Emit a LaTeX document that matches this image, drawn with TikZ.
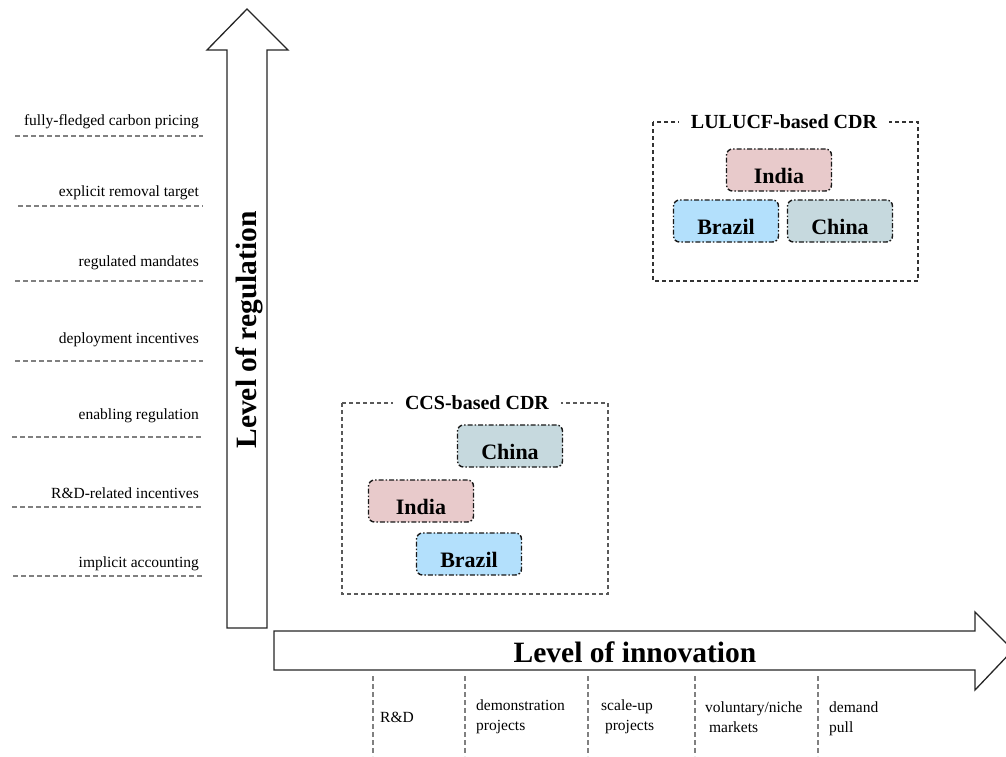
\documentclass[tikz,border=0pt]{standalone}
\usepackage{fontspec}
\setmainfont{Liberation Serif}
\begin{document}
\begin{tikzpicture}[x=1pt,y=-1pt,
  arrowbody/.style={draw=black!85, line width=1.3pt, fill=white},
  axistitle/.style={font=\fontsize{29.5}{30}\selectfont\bfseries},
  levelrule/.style={draw=black!50, line width=1.5pt, dash pattern=on 5pt off 3pt},
  levellabel/.style={font=\fontsize{15.5}{17}\selectfont, anchor=east, inner sep=0pt},
  stagerule/.style={draw=black!50, line width=1.5pt, dash pattern=on 5pt off 3pt},
  stagelabel/.style={font=\fontsize{15.5}{20}\selectfont, anchor=north west, inner sep=0pt, align=left},
  group/.style={draw=black!80, line width=1.1pt, dash pattern=on 4pt off 3pt},
  grouptitle/.style={font=\fontsize{20}{22}\selectfont\bfseries, fill=white, inner xsep=12pt, inner ysep=1pt},
  country/.style={draw=black!90, line width=1.4pt, dash pattern=on 5pt off 2pt on 1.5pt off 2pt,
    rounded corners=6pt, minimum width=105pt, minimum height=42pt, inner sep=0pt,
    font=\fontsize{22}{24}\selectfont\bfseries, text height=27pt, text depth=0pt},
  india/.style={country, fill={rgb,255:red,232;green,202;blue,203}},
  brazil/.style={country, fill={rgb,255:red,179;green,224;blue,252}},
  china/.style={country, fill={rgb,255:red,198;green,217;blue,222}}
]
\useasboundingbox (0,0) rectangle (1006,756);
\clip (0,0) rectangle (1006,756);

% vertical axis arrow
\draw[arrowbody] (227,628) -- (227,50) -- (207,50) -- (247,9) -- (288,50) -- (267,50) -- (267,628) -- cycle;
\node[axistitle, rotate=90] (regtitle) at (249,330) {Level of regulation};

% horizontal axis arrow
\draw[arrowbody] (274,631) -- (975,631) -- (975,612) -- (1013,650) -- (975,690) -- (975,670) -- (274,670) -- cycle;
\node[axistitle] (innotitle) at (635,652) {Level of innovation};

% regulation levels
\foreach \txt/\ty/\ly/\lx in {
  fully-fledged carbon pricing/120/136/15,
  explicit removal target/191/206/18,
  regulated mandates/261/281/15,
  deployment incentives/338/361/15,
  enabling regulation/414/437/12,
  R\&D-related incentives/491/507/12,
  implicit accounting/562/576/13}{
  \node[levellabel] at (199,\ty+2) {\txt};
  \draw[levelrule] (\lx,\ly) -- (203,\ly);
}

% innovation stages
\foreach \sx in {373,465,588,695,818}
  \draw[stagerule] (\sx,676) -- (\sx,756);
\node[stagelabel] (rd) at (380,712) {R\&D};
\node[stagelabel] (demo) at (476,700) {demonstration\\projects};
\node[stagelabel] (scale) at (601,700) {scale-up\\\ projects};
\node[stagelabel] (vol) at (705,702) {voluntary/niche\\\ markets};
\node[stagelabel] (pull) at (829,702) {demand\\pull};

% LULUCF-based CDR group
\draw[group] (653,122) rectangle (918,281);
\node[grouptitle] (lulucf) at (784,122) {LULUCF-based CDR};
\node[india]  (lindia)  at (779,170) {India};
\node[brazil] (lbrazil) at (726,221) {Brazil};
\node[china]  (lchina)  at (840,221) {China};

% CCS-based CDR group
\draw[group, draw=black!65] (342,403) rectangle (608,594);
\node[grouptitle] (ccs) at (477,403) {CCS-based CDR};
\node[china]  (cchina)  at (510,446) {China};
\node[india]  (cindia)  at (421,501) {India};
\node[brazil] (cbrazil) at (469,554) {Brazil};
\end{tikzpicture}
\end{document}
